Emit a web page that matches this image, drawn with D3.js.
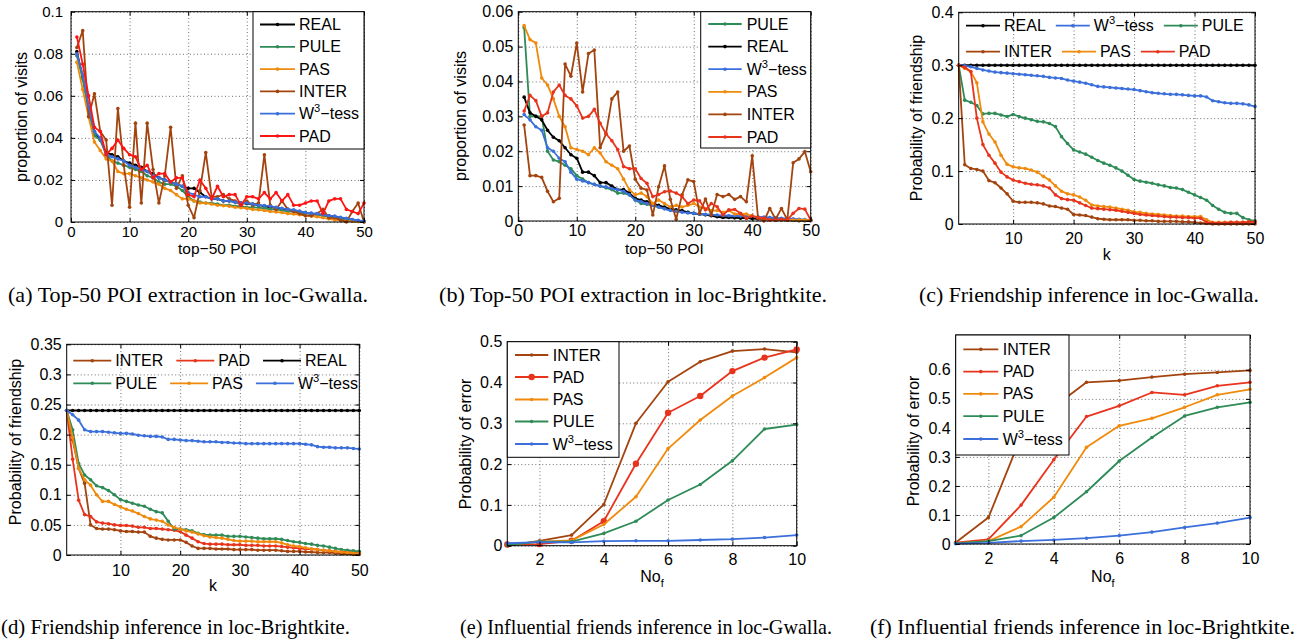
<!DOCTYPE html>
<html>
<head>
<meta charset="utf-8">
<script src="https://cdn.jsdelivr.net/npm/d3@7"></script>
<style>
  body { margin: 0; background: #fff; }
  svg text { font-family: "Liberation Sans", Arial, Helvetica, sans-serif; fill: #000; }
  svg text.cap { font-family: "Liberation Serif", "Times New Roman", serif; }
  .grid line { stroke: #6e6e6e; stroke-dasharray: 1,2.5; }
  .grid path { display: none; }
  .ax path { display: none; }
  .ax line { stroke: #000; }
</style>
</head>
<body>
<svg id="fig" width="1297" height="641"></svg>
<script>
// ---------- x values ----------
const rank = d3.range(1, 51);          // top-50 POI rank / k
const noF = [1, 2, 3, 4, 5, 6, 7, 8, 9, 10];

// ---------- (a) top-50 POI, loc-Gwalla ----------
const poiGwReal = [0.081,0.069,0.054,0.043,0.039,0.033,0.032,0.031,0.029,0.028,0.027,0.026,0.024,0.023,0.021,0.020,0.019,0.018,0.017,0.016,0.016,0.014,0.012,0.011,0.011,0.010,0.010,0.0095,0.009,0.0088,0.0085,0.008,0.0075,0.007,0.0068,0.0062,0.006,0.0055,0.005,0.0045,0.004,0.0038,0.0032,0.003,0.0025,0.002,0.0015,0.001,0.0006,0.0002];
const poiGwPule = [0.079,0.068,0.053,0.041,0.039,0.032,0.029,0.028,0.027,0.026,0.025,0.024,0.022,0.021,0.019,0.018,0.018,0.017,0.015,0.012,0.010,0.0095,0.009,0.009,0.0085,0.008,0.008,0.0075,0.0075,0.007,0.007,0.0068,0.0065,0.006,0.006,0.0055,0.005,0.005,0.0045,0.004,0.004,0.0035,0.003,0.0025,0.002,0.0015,0.001,0.0008,0.0005,0.0002];
const poiGwPas = [0.076,0.063,0.050,0.038,0.034,0.030,0.029,0.024,0.023,0.023,0.022,0.021,0.020,0.019,0.018,0.016,0.015,0.013,0.011,0.011,0.010,0.009,0.009,0.0085,0.008,0.0078,0.0075,0.007,0.0068,0.0065,0.006,0.0058,0.0055,0.005,0.0048,0.0045,0.004,0.0038,0.0035,0.003,0.0028,0.0025,0.002,0.0015,0.001,0.0008,0.0005,0.0003,0.0002,0.0001];
const poiGwInter = [0.083,0.091,0.050,0.061,0.043,0.039,0.008,0.054,0.027,0.007,0.047,0.009,0.047,0.025,0.009,0.022,0.045,0.016,0.022,0.008,0.002,0.015,0.033,0.012,0.012,0.013,0.011,0.010,0.008,0.010,0.008,0.009,0.032,0.008,0.006,0.010,0.006,0.005,0.004,0.003,0.003,0.004,0.006,0.002,0.002,0.001,0.000,0.005,0.009,0.000];
const poiGwW3 = [0.080,0.070,0.055,0.043,0.040,0.032,0.031,0.030,0.029,0.027,0.026,0.025,0.024,0.022,0.021,0.020,0.019,0.018,0.017,0.014,0.013,0.012,0.012,0.011,0.011,0.010,0.010,0.0095,0.009,0.009,0.0085,0.008,0.0078,0.0075,0.007,0.0065,0.006,0.0058,0.0052,0.0045,0.0042,0.004,0.0035,0.003,0.0028,0.0022,0.0018,0.0012,0.0008,0.0004];
const poiGwPad = [0.088,0.075,0.060,0.045,0.043,0.032,0.035,0.039,0.035,0.032,0.031,0.025,0.027,0.021,0.023,0.023,0.019,0.021,0.021,0.013,0.012,0.020,0.016,0.011,0.017,0.012,0.013,0.013,0.008,0.012,0.012,0.011,0.014,0.011,0.014,0.010,0.013,0.008,0.008,0.009,0.010,0.010,0.004,0.010,0.011,0.011,0.006,0.005,0.004,0.009];

// ---------- (b) top-50 POI, loc-Brightkite ----------
const poiBkPule = [0.0555,0.030,0.030,0.030,0.020,0.0175,0.017,0.016,0.015,0.013,0.012,0.011,0.0105,0.010,0.0095,0.009,0.008,0.008,0.0075,0.006,0.005,0.0048,0.0045,0.004,0.0035,0.0032,0.003,0.0028,0.0025,0.0022,0.002,0.0018,0.0016,0.0015,0.0014,0.0013,0.0012,0.0011,0.001,0.0009,0.0008,0.0007,0.0006,0.0005,0.0004,0.0004,0.0003,0.0003,0.0002,0.0002];
const poiBkReal = [0.0355,0.031,0.030,0.029,0.026,0.024,0.023,0.021,0.019,0.018,0.014,0.014,0.013,0.011,0.011,0.010,0.009,0.009,0.008,0.0065,0.006,0.0055,0.005,0.0045,0.004,0.0035,0.0032,0.003,0.0025,0.0022,0.002,0.0018,0.0015,0.0012,0.001,0.001,0.0009,0.0008,0.0008,0.0007,0.0006,0.0005,0.0004,0.0003,0.0003,0.0002,0.0002,0.0001,0.0001,0.0001];
const poiBkW3 = [0.0305,0.029,0.027,0.026,0.021,0.020,0.018,0.017,0.014,0.012,0.0115,0.011,0.0105,0.010,0.0098,0.0093,0.009,0.0085,0.0075,0.006,0.0055,0.005,0.0045,0.004,0.0035,0.003,0.0028,0.0025,0.0023,0.0022,0.002,0.0019,0.0018,0.0017,0.0016,0.0015,0.0015,0.0014,0.0014,0.0013,0.0012,0.0011,0.001,0.0009,0.0008,0.0007,0.0006,0.0005,0.0004,0.0003];
const poiBkPas = [0.056,0.052,0.051,0.041,0.039,0.035,0.030,0.027,0.021,0.0205,0.020,0.019,0.021,0.0195,0.017,0.016,0.015,0.012,0.009,0.0075,0.008,0.007,0.005,0.006,0.005,0.004,0.0045,0.004,0.0045,0.005,0.004,0.0035,0.003,0.003,0.0025,0.003,0.002,0.002,0.002,0.0015,0.001,0.0005,0.0003,0.0003,0.0003,0.0003,0.0003,0.0003,0.0003,0.0003];
const poiBkInter = [0.0275,0.013,0.013,0.0125,0.0085,0.0055,0.0065,0.045,0.0415,0.051,0.037,0.048,0.049,0.021,0.025,0.035,0.037,0.020,0.0215,0.012,0.0094,0.0089,0.0017,0.0098,0.0158,0.0062,0.0005,0.0075,0.0118,0.0113,0.0022,0.0063,0.0017,0.0076,0.007,0.0076,0.0062,0.007,0.0055,0.0187,0.0008,0.0,0.0036,0.0005,0.0036,0.0003,0.0167,0.0178,0.0199,0.0141];
const poiBkPad = [0.0315,0.036,0.0345,0.030,0.031,0.037,0.039,0.036,0.035,0.033,0.0295,0.030,0.032,0.028,0.025,0.023,0.0205,0.0156,0.015,0.015,0.0122,0.0108,0.007,0.0076,0.0084,0.0086,0.008,0.007,0.005,0.006,0.0058,0.0032,0.005,0.0041,0.0017,0.0032,0.0033,0.0022,0.0008,0.0014,0.001,0.0008,0.0003,0.0003,0.0005,0.0003,0.0022,0.0036,0.0034,0.0003];

// ---------- (c) friendship inference, loc-Gwalla ----------
const frGwReal = [0.3,0.3,0.3,0.3,0.3,0.3,0.3,0.3,0.3,0.3,0.3,0.3,0.3,0.3,0.3,0.3,0.3,0.3,0.3,0.3,0.3,0.3,0.3,0.3,0.3,0.3,0.3,0.3,0.3,0.3,0.3,0.3,0.3,0.3,0.3,0.3,0.3,0.3,0.3,0.3,0.3,0.3,0.3,0.3,0.3,0.3,0.3,0.3,0.3,0.3];
const frGwW3 = [0.300,0.299,0.297,0.294,0.291,0.289,0.287,0.286,0.285,0.284,0.283,0.282,0.281,0.280,0.279,0.277,0.276,0.275,0.272,0.270,0.268,0.266,0.263,0.260,0.259,0.258,0.257,0.256,0.255,0.254,0.252,0.250,0.248,0.247,0.246,0.245,0.245,0.244,0.243,0.242,0.242,0.240,0.233,0.231,0.229,0.228,0.228,0.227,0.225,0.222];
const frGwPule = [0.300,0.234,0.230,0.224,0.208,0.209,0.209,0.206,0.203,0.207,0.203,0.200,0.197,0.194,0.193,0.190,0.184,0.165,0.152,0.140,0.136,0.132,0.126,0.120,0.115,0.111,0.106,0.100,0.092,0.084,0.081,0.079,0.077,0.074,0.072,0.069,0.068,0.065,0.060,0.055,0.050,0.045,0.035,0.028,0.022,0.020,0.020,0.012,0.008,0.006];
const frGwInter = [0.300,0.112,0.105,0.103,0.100,0.082,0.078,0.068,0.057,0.043,0.041,0.041,0.041,0.040,0.038,0.034,0.033,0.030,0.028,0.018,0.017,0.016,0.013,0.010,0.009,0.008,0.008,0.008,0.008,0.007,0.007,0.006,0.006,0.005,0.005,0.005,0.005,0.004,0.004,0.003,0.002,0.001,0.0,0.0,0.0,0.0,0.0,0.0,0.0,0.0];
const frGwPas = [0.300,0.294,0.288,0.267,0.193,0.170,0.155,0.130,0.113,0.108,0.106,0.105,0.102,0.098,0.090,0.083,0.072,0.062,0.057,0.055,0.051,0.045,0.036,0.034,0.033,0.032,0.030,0.028,0.026,0.023,0.022,0.020,0.019,0.018,0.017,0.016,0.015,0.015,0.014,0.014,0.014,0.008,0.003,0.003,0.003,0.003,0.003,0.003,0.004,0.004];
const frGwPad = [0.300,0.296,0.288,0.200,0.150,0.130,0.115,0.098,0.089,0.083,0.080,0.077,0.075,0.074,0.072,0.068,0.055,0.048,0.046,0.045,0.040,0.035,0.030,0.029,0.028,0.027,0.026,0.024,0.022,0.020,0.018,0.017,0.016,0.015,0.014,0.013,0.013,0.012,0.012,0.011,0.011,0.003,0.002,0.002,0.002,0.003,0.003,0.003,0.004,0.004];

// ---------- (d) friendship inference, loc-Brightkite ----------
const frBkInter = [0.240,0.191,0.144,0.119,0.050,0.044,0.043,0.043,0.042,0.040,0.039,0.039,0.038,0.038,0.031,0.028,0.026,0.025,0.025,0.025,0.021,0.015,0.011,0.011,0.011,0.010,0.010,0.010,0.009,0.009,0.009,0.009,0.008,0.008,0.008,0.008,0.007,0.006,0.006,0.006,0.005,0.005,0.004,0.004,0.004,0.003,0.002,0.002,0.001,0.001];
const frBkPad = [0.240,0.159,0.091,0.067,0.064,0.055,0.053,0.052,0.050,0.049,0.049,0.048,0.046,0.046,0.044,0.044,0.043,0.042,0.041,0.039,0.033,0.028,0.022,0.019,0.018,0.018,0.018,0.017,0.017,0.017,0.016,0.016,0.016,0.015,0.015,0.015,0.014,0.013,0.012,0.011,0.010,0.010,0.009,0.008,0.007,0.006,0.005,0.005,0.004,0.004];
const frBkReal = [0.24,0.24,0.24,0.24,0.24,0.24,0.24,0.24,0.24,0.24,0.24,0.24,0.24,0.24,0.24,0.24,0.24,0.24,0.24,0.24,0.24,0.24,0.24,0.24,0.24,0.24,0.24,0.24,0.24,0.24,0.24,0.24,0.24,0.24,0.24,0.24,0.24,0.24,0.24,0.24,0.24,0.24,0.24,0.24,0.24,0.24,0.24,0.24,0.24,0.24];
const frBkPule = [0.240,0.208,0.152,0.133,0.125,0.115,0.112,0.107,0.100,0.092,0.089,0.086,0.083,0.081,0.076,0.072,0.070,0.056,0.043,0.043,0.042,0.040,0.036,0.034,0.033,0.033,0.033,0.031,0.031,0.031,0.030,0.029,0.028,0.027,0.027,0.027,0.026,0.024,0.022,0.021,0.019,0.018,0.016,0.015,0.013,0.011,0.009,0.008,0.007,0.006];
const frBkPas = [0.240,0.195,0.144,0.125,0.116,0.100,0.089,0.089,0.084,0.080,0.076,0.073,0.069,0.064,0.060,0.058,0.056,0.050,0.046,0.043,0.040,0.038,0.035,0.032,0.030,0.029,0.028,0.026,0.024,0.023,0.023,0.023,0.022,0.022,0.022,0.022,0.020,0.017,0.015,0.014,0.012,0.010,0.009,0.008,0.007,0.006,0.005,0.004,0.003,0.003];
const frBkW3 = [0.240,0.233,0.224,0.208,0.205,0.205,0.205,0.204,0.203,0.202,0.202,0.201,0.199,0.198,0.197,0.197,0.196,0.192,0.192,0.191,0.190,0.190,0.189,0.188,0.188,0.188,0.187,0.187,0.186,0.186,0.185,0.185,0.185,0.185,0.185,0.185,0.185,0.185,0.185,0.185,0.184,0.183,0.180,0.179,0.179,0.178,0.178,0.178,0.177,0.176];

// ---------- (e) influential friends, loc-Gwalla ----------
const infGwInter = [0.0,0.012,0.026,0.101,0.300,0.402,0.451,0.477,0.482,0.474];
const infGwPad = [0.003,0.004,0.012,0.060,0.201,0.326,0.367,0.428,0.461,0.481];
const infGwPas = [0.002,0.010,0.013,0.052,0.120,0.238,0.308,0.367,0.412,0.461];
const infGwPule = [0.001,0.010,0.010,0.030,0.060,0.112,0.150,0.208,0.286,0.297];
const infGwW3 = [0.006,0.009,0.008,0.011,0.012,0.012,0.014,0.016,0.020,0.026];

// ---------- (f) influential friends, loc-Brightkite ----------
const infBkInter = [0.005,0.091,0.370,0.472,0.557,0.563,0.575,0.585,0.591,0.598];
const infBkPad = [0.005,0.016,0.134,0.290,0.439,0.476,0.522,0.514,0.545,0.557];
const infBkPas = [0.003,0.010,0.060,0.161,0.333,0.407,0.433,0.471,0.514,0.533];
const infBkPule = [0.002,0.010,0.029,0.091,0.180,0.286,0.367,0.441,0.471,0.488];
const infBkW3 = [0.001,0.004,0.010,0.014,0.020,0.029,0.041,0.057,0.072,0.091];

// ---------- ticks ----------
const ticks50 = [0, 10, 20, 30, 40, 50];
const ticksK = [10, 20, 30, 40, 50];
const ticksNo = [2, 4, 6, 8, 10];

const colors = { REAL: '#000000', PULE: '#2e8b57', PAS: '#f08a0c', INTER: '#a3440f', W3: '#3b6fdb', PAD: '#e8341c' };

const svg = d3.select('#fig');
const fmt = d => String(+d.toFixed(4));

// label text, with W^3-tess superscript
function seriesLabel(t, name) {
  if (name === 'W3') {
    t.append('tspan').text('W');
    t.append('tspan').attr('dy', -7).attr('font-size', '0.7em').text('3');
    t.append('tspan').attr('dy', 7).text('\u2212tess');
  } else {
    t.text(name);
  }
}

function panel(cfg) {
  const b = cfg.box;
  const x = d3.scaleLinear().domain(cfg.xDomain).range([b.left, b.right]);
  const y = d3.scaleLinear().domain(cfg.yDomain).range([b.bottom, b.top]);
  const w = b.right - b.left, h = b.bottom - b.top;
  const g = svg.append('g');

  // dotted grid
  g.append('g').attr('class', 'grid')
    .attr('transform', `translate(0,${b.bottom})`)
    .call(d3.axisBottom(x).tickValues(cfg.xTicks).tickSize(-h).tickFormat(''));
  g.append('g').attr('class', 'grid')
    .attr('transform', `translate(${b.left},0)`)
    .call(d3.axisLeft(y).tickValues(cfg.yTicks).tickSize(-w).tickFormat(''));

  // series
  const line = d3.line().x((d, i) => x(cfg.xs[i])).y(d => y(d));
  cfg.series.forEach(s => {
    const c = s.color || colors[s.name];
    g.append('path').datum(s.values)
      .attr('fill', 'none').attr('stroke', c).attr('stroke-width', 1.8)
      .attr('stroke-linejoin', 'round').attr('d', line);
    g.append('g').selectAll('circle').data(s.values).join('circle')
      .attr('cx', (d, i) => x(cfg.xs[i])).attr('cy', d => y(d))
      .attr('r', s.r || 1.8).attr('fill', c);
  });

  // axes with inward ticks
  const fs = cfg.fontSize;
  g.append('g').attr('class', 'ax').attr('transform', `translate(0,${b.bottom})`)
    .call(d3.axisBottom(x).tickValues(cfg.xTicks).tickSize(-4).tickSizeOuter(0).tickPadding(cfg.xPad).tickFormat(fmt));
  g.append('g').attr('class', 'ax').attr('transform', `translate(${b.left},0)`)
    .call(d3.axisLeft(y).tickValues(cfg.yTicks).tickSize(-4).tickSizeOuter(0).tickPadding(cfg.yPad).tickFormat(fmt));
  g.append('g').attr('class', 'ax').attr('transform', `translate(0,${b.top})`)
    .call(d3.axisTop(x).tickValues(cfg.xTicks).tickSize(-4).tickSizeOuter(0).tickFormat(''));
  g.append('g').attr('class', 'ax').attr('transform', `translate(${b.right},0)`)
    .call(d3.axisRight(y).tickValues(cfg.yTicks).tickSize(-4).tickSizeOuter(0).tickFormat(''));
  g.selectAll('.ax text').attr('font-size', fs).attr('font-family', null);

  g.append('rect').attr('x', b.left).attr('y', b.top).attr('width', w).attr('height', h)
    .attr('fill', 'none').attr('stroke', '#000').attr('stroke-width', 1);

  // axis labels
  const xl = g.append('text').attr('x', (b.left + b.right) / 2).attr('y', cfg.xLabelY)
    .attr('text-anchor', 'middle').attr('font-size', cfg.xLabelSize || 16);
  if (cfg.xLabel === 'Nof') {
    xl.append('tspan').text('No');
    xl.append('tspan').attr('dy', 5).attr('font-size', 11).text('f');
  } else {
    xl.text(cfg.xLabel);
  }
  g.append('text').attr('transform', `translate(${cfg.yLabelX},${cfg.yLabelY}) rotate(-90)`)
    .attr('text-anchor', 'middle').attr('font-size', 16).text(cfg.yLabel);

  // legend
  const L = cfg.legend;
  const lg = g.append('g');
  const item = (lx0, lx1, ty, name, tx) => {
    const s = cfg.series.find(d => d.name === name);
    const c = s.color || colors[name];
    lg.append('line').attr('x1', lx0).attr('x2', lx1).attr('y1', ty).attr('y2', ty)
      .attr('stroke', c).attr('stroke-width', 1.8);
    lg.append('circle').attr('cx', (lx0 + lx1) / 2).attr('cy', ty).attr('r', s.r || 1.8).attr('fill', c);
    const t = lg.append('text').attr('x', tx).attr('y', ty + 5.5).attr('font-size', 16);
    seriesLabel(t, name);
    return t;
  };
  if (L.type === 'box') {
    lg.append('rect').attr('x', L.x0).attr('y', L.y0).attr('width', L.x1 - L.x0).attr('height', L.y1 - L.y0)
      .attr('fill', '#fff').attr('stroke', '#000').attr('stroke-width', 1);
    L.order.forEach((name, i) => item(L.lineX0, L.lineX1, L.rowY[i], name, L.textX));
  } else {
    L.rows.forEach((row, r) => {
      let cx = L.startX;
      row.forEach(name => {
        const t = item(cx, cx + L.lineLen, L.rowY[r], name, cx + L.lineLen + 4);
        cx += L.lineLen + 4 + t.node().getComputedTextLength() + L.gap;
      });
    });
  }
}

// ---------- panels ----------
panel({
  box: { left: 71, right: 364, top: 11.7, bottom: 222 },
  xs: rank, xDomain: [0, 50], yDomain: [0, 0.1],
  xTicks: ticks50, yTicks: [0, 0.02, 0.04, 0.06, 0.08, 0.1],
  fontSize: 15, xPad: 4, yPad: 8,
  xLabel: 'top\u221250 POI', xLabelY: 254, xLabelSize: 15.5,
  yLabel: 'proportion of visits', yLabelX: 27, yLabelY: 117,
  series: [
    { name: 'REAL', values: poiGwReal }, { name: 'PULE', values: poiGwPule },
    { name: 'PAS', values: poiGwPas }, { name: 'INTER', values: poiGwInter },
    { name: 'W3', values: poiGwW3 }, { name: 'PAD', values: poiGwPad, color: '#ff1414' }
  ],
  legend: { type: 'box', x0: 253, x1: 364, y0: 11.7, y1: 149, lineX0: 260, lineX1: 295, textX: 299,
    order: ['REAL', 'PULE', 'PAS', 'INTER', 'W3', 'PAD'], rowY: [24.5, 46.8, 69.1, 91.4, 113.7, 136] }
});

panel({
  box: { left: 518.3, right: 810.7, top: 11.7, bottom: 221 },
  xs: rank, xDomain: [0, 50], yDomain: [0, 0.06],
  xTicks: ticks50, yTicks: [0, 0.01, 0.02, 0.03, 0.04, 0.05, 0.06],
  fontSize: 16, xPad: 4, yPad: 5,
  xLabel: 'top\u221250 POI', xLabelY: 254, xLabelSize: 15.5,
  yLabel: 'proportion of visits', yLabelX: 466, yLabelY: 116,
  series: [
    { name: 'PULE', values: poiBkPule }, { name: 'REAL', values: poiBkReal },
    { name: 'W3', values: poiBkW3 }, { name: 'PAS', values: poiBkPas },
    { name: 'INTER', values: poiBkInter }, { name: 'PAD', values: poiBkPad }
  ],
  legend: { type: 'box', x0: 700.7, x1: 810.7, y0: 11.7, y1: 148, lineX0: 708.3, lineX1: 741.7, textX: 746.7,
    order: ['PULE', 'REAL', 'W3', 'PAS', 'INTER', 'PAD'], rowY: [24, 46.6, 69.2, 91.8, 114.4, 137] }
});

panel({
  box: { left: 958.7, right: 1255, top: 12.3, bottom: 224 },
  xs: rank, xDomain: [1, 50], yDomain: [0, 0.4],
  xTicks: ticksK, yTicks: [0, 0.1, 0.2, 0.3, 0.4],
  fontSize: 16, xPad: 9, yPad: 5,
  xLabel: 'k', xLabelY: 260, yLabel: 'Probability of friendship', yLabelX: 922, yLabelY: 118,
  series: [
    { name: 'REAL', values: frGwReal }, { name: 'W3', values: frGwW3 },
    { name: 'PULE', values: frGwPule }, { name: 'INTER', values: frGwInter },
    { name: 'PAS', values: frGwPas }, { name: 'PAD', values: frGwPad }
  ],
  legend: { type: 'flow', startX: 966, lineLen: 34, gap: 10,
    rows: [['REAL', 'W3', 'PULE'], ['INTER', 'PAS', 'PAD']], rowY: [25.7, 51.7] }
});

panel({
  box: { left: 66.7, right: 359.3, top: 344.3, bottom: 555 },
  xs: rank, xDomain: [1, 50], yDomain: [0, 0.35],
  xTicks: ticksK, yTicks: [0, 0.05, 0.1, 0.15, 0.2, 0.25, 0.3, 0.35],
  fontSize: 16, xPad: 10, yPad: 5,
  xLabel: 'k', xLabelY: 591, yLabel: 'Probability of friendship', yLabelX: 20.5, yLabelY: 442,
  series: [
    { name: 'INTER', values: frBkInter }, { name: 'PAD', values: frBkPad },
    { name: 'REAL', values: frBkReal }, { name: 'PULE', values: frBkPule },
    { name: 'PAS', values: frBkPas }, { name: 'W3', values: frBkW3 }
  ],
  legend: { type: 'flow', startX: 73.3, lineLen: 38, gap: 13,
    rows: [['INTER', 'PAD', 'REAL'], ['PULE', 'PAS', 'W3']], rowY: [360.7, 383.3] }
});

panel({
  box: { left: 507.3, right: 796.7, top: 341.7, bottom: 545.7 },
  xs: noF, xDomain: [1, 10], yDomain: [0, 0.5],
  xTicks: ticksNo, yTicks: [0, 0.1, 0.2, 0.3, 0.4, 0.5],
  fontSize: 16, xPad: 8, yPad: 5,
  xLabel: 'Nof', xLabelY: 582, yLabel: 'Probability of error', yLabelX: 471, yLabelY: 444,
  series: [
    { name: 'INTER', values: infGwInter }, { name: 'PAD', values: infGwPad, r: 3.2 },
    { name: 'PAS', values: infGwPas }, { name: 'PULE', values: infGwPule },
    { name: 'W3', values: infGwW3 }
  ],
  legend: { type: 'box', x0: 507.3, x1: 619, y0: 341.7, y1: 457.3, lineX0: 515, lineX1: 548.3, textX: 552.7,
    order: ['INTER', 'PAD', 'PAS', 'PULE', 'W3'], rowY: [355, 377, 399.5, 421.5, 444] }
});

panel({
  box: { left: 955.7, right: 1250, top: 335, bottom: 544 },
  xs: noF, xDomain: [1, 10], yDomain: [0, 0.72],
  xTicks: ticksNo, yTicks: [0, 0.1, 0.2, 0.3, 0.4, 0.5, 0.6],
  fontSize: 16, xPad: 9, yPad: 5,
  xLabel: 'Nof', xLabelY: 582, yLabel: 'Probability of error', yLabelX: 919, yLabelY: 441,
  series: [
    { name: 'INTER', values: infBkInter }, { name: 'PAD', values: infBkPad },
    { name: 'PAS', values: infBkPas }, { name: 'PULE', values: infBkPule },
    { name: 'W3', values: infBkW3 }
  ],
  legend: { type: 'box', x0: 955.7, x1: 1069, y0: 335, y1: 455, lineX0: 963.3, lineX1: 998.3, textX: 1002.7,
    order: ['INTER', 'PAD', 'PAS', 'PULE', 'W3'], rowY: [349.3, 371.6, 393.9, 416.2, 439] }
});

// ---------- captions (widths as printed) ----------
const captions = [
  { text: '(a) Top-50 POI extraction in loc-Gwalla.', x: 8, y: 302, w: 360 },
  { text: '(b) Top-50 POI extraction in loc-Brightkite.', x: 439, y: 302, w: 388 },
  { text: '(c) Friendship inference in loc-Gwalla.', x: 919, y: 302, w: 340 },
  { text: '(d) Friendship inference in loc-Brightkite.', x: 1, y: 633.5, w: 349 },
  { text: '(e) Influential friends inference in loc-Gwalla.', x: 460, y: 633.5, w: 372 },
  { text: '(f) Influential friends inference in loc-Brightkite.', x: 870, y: 633.5, w: 425 }
];
svg.selectAll('text.cap').data(captions).join('text')
  .attr('class', 'cap').attr('x', d => d.x).attr('y', d => d.y)
  .attr('font-size', 21).attr('textLength', d => d.w).attr('lengthAdjust', 'spacingAndGlyphs')
  .text(d => d.text);
</script>
</body>
</html>
